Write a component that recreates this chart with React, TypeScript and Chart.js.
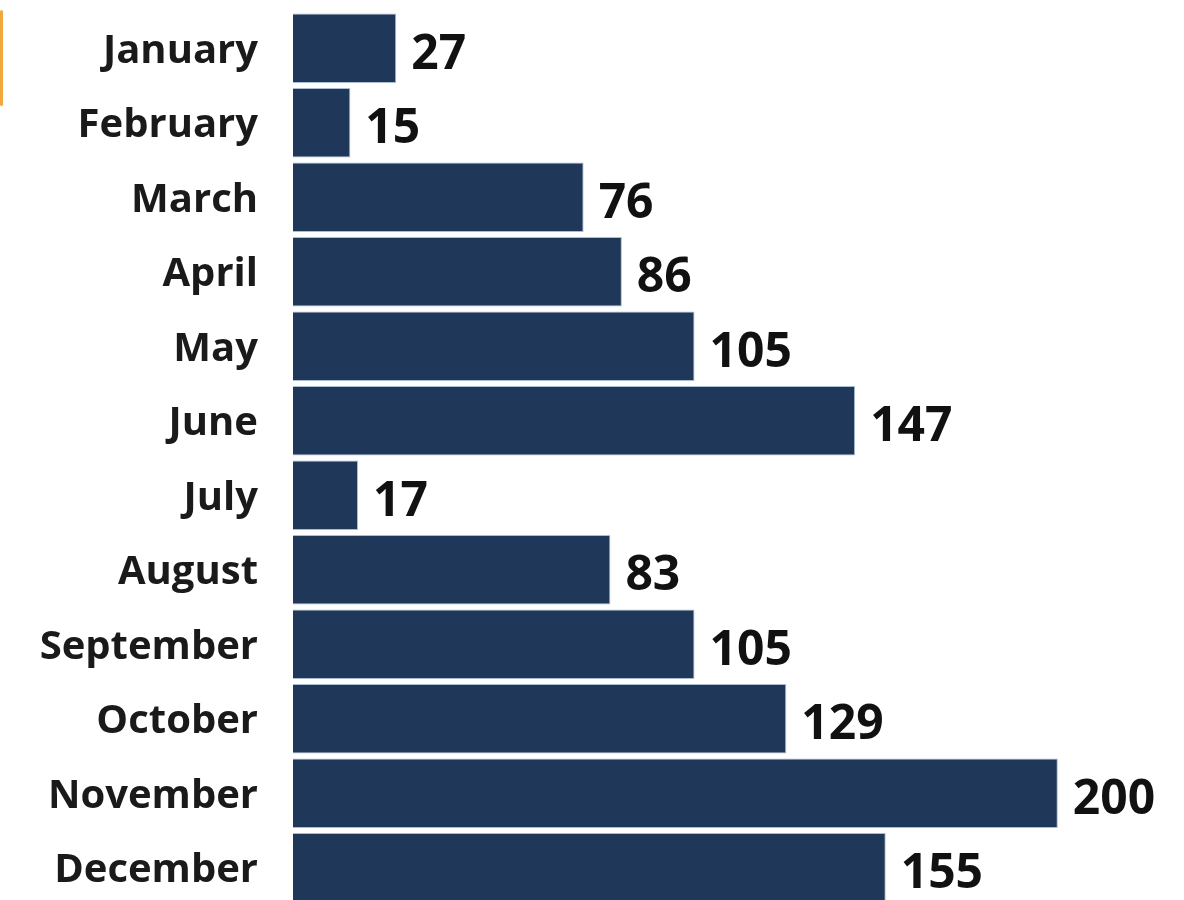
import React, { useEffect, useRef } from "react";
import { Chart, registerables } from "chart.js";

Chart.register(...registerables);

const months = [
  "January", "February", "March", "April", "May", "June",
  "July", "August", "September", "October", "November", "December",
];
const counts = [27, 15, 76, 86, 105, 147, 17, 83, 105, 129, 200, 155];

const valueLabels = {
  id: "valueLabels",
  afterDatasetsDraw(chart: any) {
    const ctx = chart.ctx;
    const meta = chart.getDatasetMeta(0);
    ctx.save();
    ctx.font = "bold 48px 'Open Sans'";
    ctx.fillStyle = "#111111";
    ctx.textAlign = "left";
    ctx.textBaseline = "middle";
    meta.data.forEach((bar: any, i: number) => {
      ctx.fillText(String(counts[i]), bar.x + 15, bar.y + 7);
    });
    ctx.restore();
  },
};

export default function App() {
  const ref = useRef<HTMLCanvasElement>(null);
  useEffect(() => {
    if (!ref.current) return;
    const chart = new Chart(ref.current, {
      type: "bar",
      data: {
        labels: months,
        datasets: [
          {
            data: counts,
            backgroundColor: "#1f3759",
            borderColor: "#a9bdd3",
            borderWidth: 1,
            barPercentage: 0.93,
            categoryPercentage: 1,
          },
        ],
      },
      options: {
        indexAxis: "y",
        animation: false,
        responsive: false,
        maintainAspectRatio: false,
        layout: { padding: { top: 11, bottom: 0, left: 0, right: 0 } },
        plugins: { legend: { display: false }, tooltip: { enabled: false } },
        scales: {
          x: { display: false, min: 0, max: 233 },
          y: {
            grid: { display: false, drawTicks: false },
            border: { display: false },
            afterFit: (s: any) => {
              s.width = 293;
              s.paddingTop = 0;
              s.paddingBottom = 0;
            },
            ticks: {
              padding: 35,
              labelOffset: 3,
              color: "#1a1a1a",
              font: { family: "'Open Sans'", size: 40, weight: "bold" },
            },
          },
        },
      },
      plugins: [valueLabels],
    });
    return () => chart.destroy();
  }, []);
  return (
    <div style={{ position: "fixed", top: 0, left: 0, width: 1184, height: 900, overflow: "hidden", background: "#fff" }}>
      <div style={{ position: "absolute", left: 0, top: 10, width: 3, height: 96, background: "#f2a93b", borderRadius: 2 }} />
      <canvas ref={ref} width={1184} height={905} style={{ display: "block" }} />
    </div>
  );
}
